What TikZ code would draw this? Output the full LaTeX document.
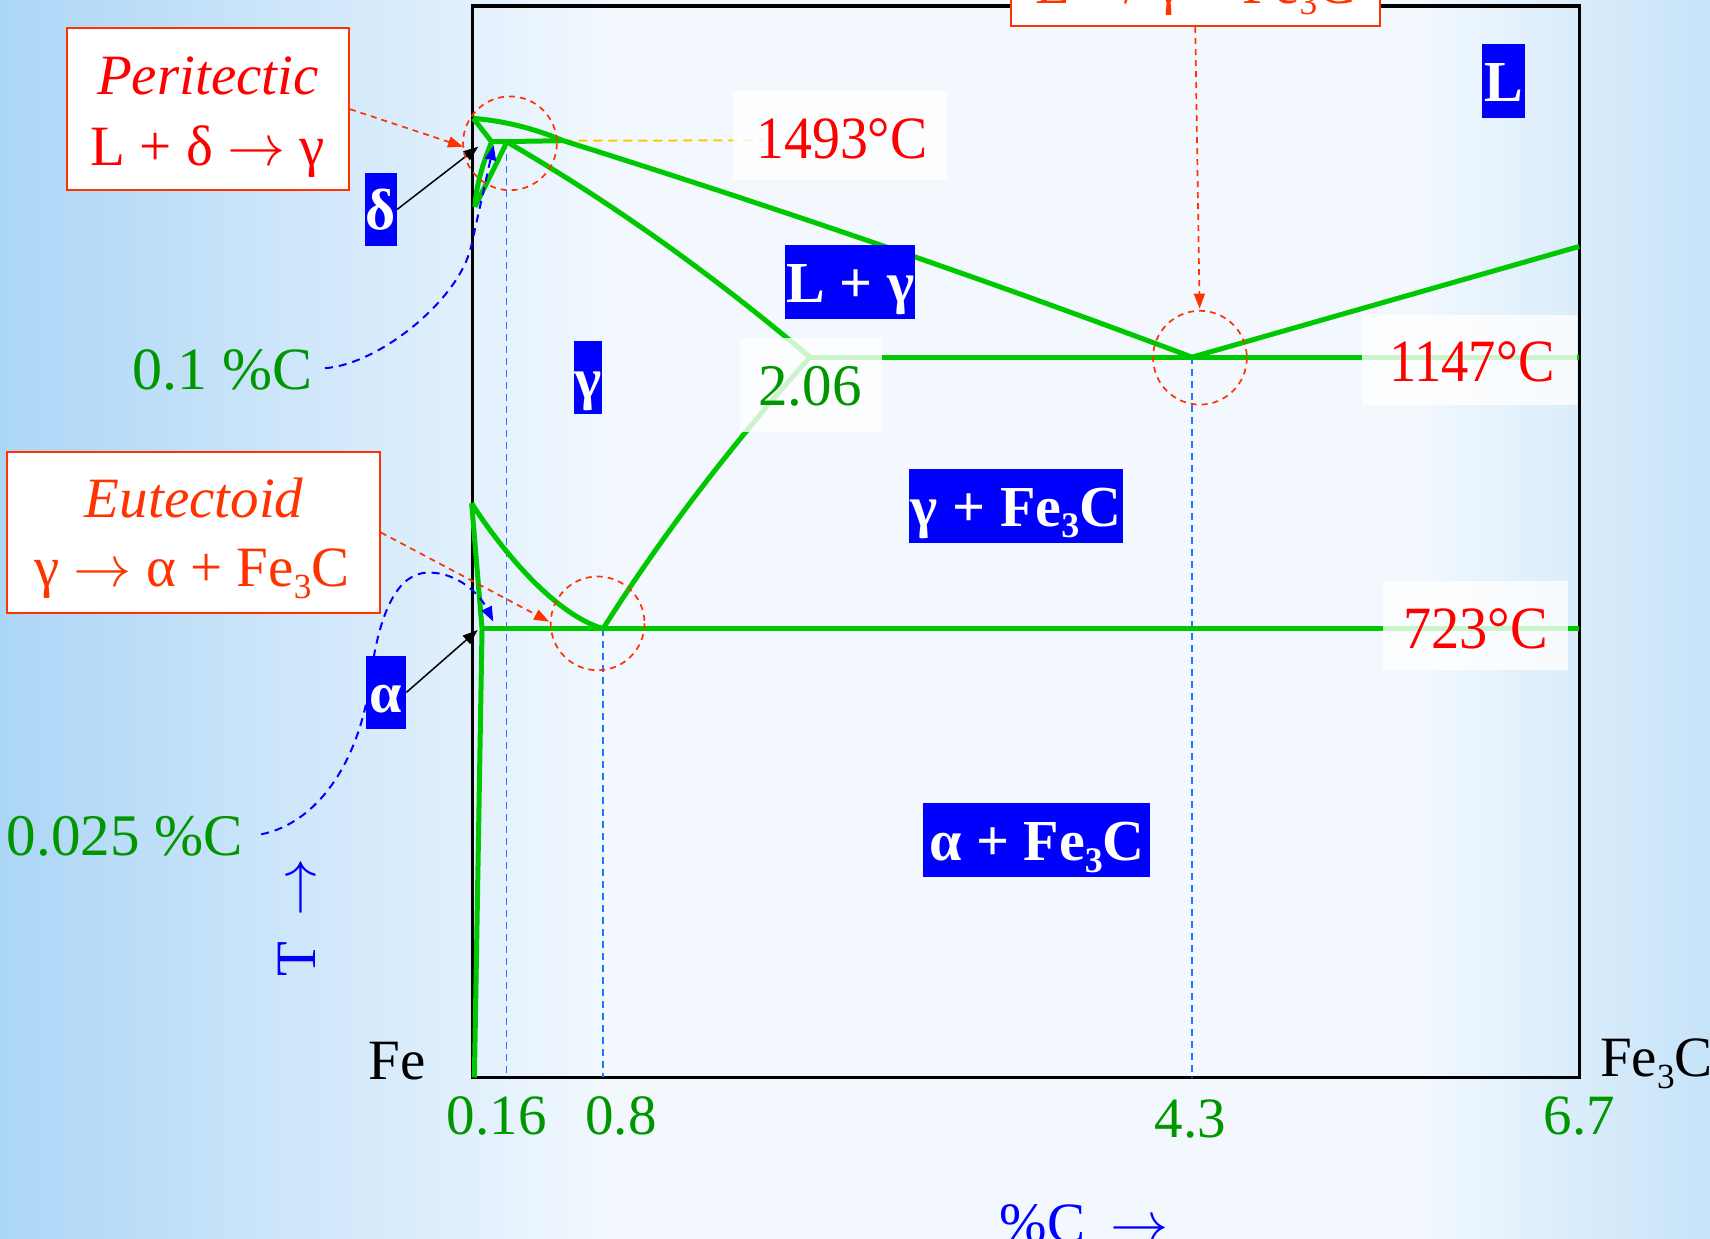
\documentclass[tikz,border=0pt]{standalone}
\usepackage{fontspec}
\setmainfont{Liberation Serif}
\usetikzlibrary{arrows.meta}
\definecolor{gline}{RGB}{0,200,0}
\definecolor{gtext}{RGB}{0,150,0}
\definecolor{pblue}{RGB}{0,0,255}
\definecolor{boxred}{RGB}{255,51,0}
\definecolor{vblue}{RGB}{30,120,255}
\definecolor{yline}{RGB}{255,200,0}
\definecolor{bgl}{RGB}{172,214,246}
\definecolor{bgm}{RGB}{242,248,254}
\definecolor{bgr}{RGB}{198,227,248}
\newcommand\lowthree{\raisebox{-0.2em}{\scalebox{0.62}{3}}}
\newcommand\setfs[1]{\fontsize{#1}{#1}\selectfont}
\newcommand\rarr{\resizebox{1.02em}{!}{$\rightarrow$}}
\begin{document}
\begin{tikzpicture}[x=1.0906pt,y=-1.0906pt,
  gl/.style={draw=gline,line width=5pt,line join=round},
  frm/.style={draw=black,line width=3.2pt},
  vdash/.style={draw=vblue,line width=1.5pt,dash pattern=on 7pt off 5pt},
  bdash/.style={draw=pblue,line width=2pt,dash pattern=on 8pt off 6pt},
  rdash/.style={draw=boxred,line width=1.7pt,dash pattern=on 6pt off 5pt},
  ydash/.style={draw=yline,line width=2pt,dash pattern=on 9pt off 6pt},
  phase/.style={fill=pblue,text=white,font=\bfseries\setfs{58},inner sep=0pt,text height=44pt,text depth=3pt},
  wbox/.style={fill=white,fill opacity=0.8,inner sep=0pt},
  rbox/.style={draw=boxred,line width=2pt,fill=white,inner sep=0pt},
  lbl/.style={inner sep=0pt,anchor=base},
  tipt/.style={-{Triangle[length=15pt,width=11pt]}},
]
\useasboundingbox (0,0) rectangle (1568,1136);
% background
\shade[left color=bgl,right color=bgm] (0,0) rectangle (560,1136);
\fill[bgm] (559,0) rectangle (1301,1136);
\shade[left color=bgm,right color=bgr] (1300,0) rectangle (1568,1136);

% key points
\coordinate (A) at (434,108.5);
\coordinate (H) at (450.8,130);
\coordinate (J) at (464.6,130);
\coordinate (Pp) at (516.5,129);
\coordinate (N) at (435.5,189.6);
\coordinate (E) at (742.7,327.5);
\coordinate (C) at (1093,327.5);
\coordinate (Lr) at (1448,226);
\coordinate (Er) at (1448,327.5);
\coordinate (G) at (432.5,461.5);
\coordinate (Pa) at (442,576.5);
\coordinate (S) at (553,576.5);
\coordinate (Sr) at (1448,576.5);
\coordinate (Qb) at (435,988);
\coordinate (Jb) at (464.6,988);
\coordinate (Sb) at (553,988);
\coordinate (Cb) at (1093,988);
\coordinate (Yend) at (700,128.7);

% frame
\draw[frm] (433,5.5) rectangle (1448,988);

% blue dashed verticals
\draw[vdash] (J) -- (Jb);
\draw[vdash] (S) -- (Sb);
\draw[vdash] (C) -- (Cb);

% yellow dashed
\draw[ydash] (Pp) -- (Yend);

% green phase lines
\draw[gl] (A) .. controls (461.5,110.8) and (489,117.4) .. (Pp)
          .. controls (708.7,189.3) and (900.8,255.2) .. (C) -- (Lr);
\draw[gl] (A) -- (H) -- (Pp);
\draw[gl] (H) .. controls (445,145) and (437,165) .. (N);
\draw[gl] (J) .. controls (458,145) and (445,170) .. (N);
\draw[gl] (J) .. controls (557.3,183.7) and (650,248.9) .. (E);
\draw[gl] (E) -- (Er);
\draw[gl] (E) .. controls (668.8,410) and (605.6,493) .. (S);
\draw[gl] (G) .. controls (455,497) and (505,562) .. (S);
\draw[gl] (G) -- (Pa) -- (Qb);
\draw[gl] (Pa) -- (Sr);

% translucent white label boxes
\node[wbox,minimum width=213.8pt,minimum height=89.4pt] (b1493) at (770,124) {};
\node[wbox,minimum width=214.8pt,minimum height=89.4pt] (b1147) at (1347.5,330) {};
\node[wbox,minimum width=185.4pt,minimum height=88.3pt] (b723) at (1353,573.5) {};
\node[wbox,minimum width=141.8pt,minimum height=93.8pt] (b206) at (744,353) {};

\node[lbl,text=red,font=\setfs{60}] (t1493) at (772,145.2) {\scalebox{0.93}[1]{1493°C}};
\node[lbl,text=red,font=\setfs{60}] (t1147) at (1349.5,349.4) {\scalebox{0.91}[1]{1147°C}};
\node[lbl,text=red,font=\setfs{60}] (t723) at (1353,595) {\scalebox{0.94}[1]{723°C}};
\node[lbl,text=gtext,font=\setfs{59}] (t206) at (742.7,371.4) {2.06};

% phase labels
\node[phase,minimum width=42.5pt,minimum height=74.4pt] (phL) at (1378.5,74.4) {L};
\node[phase,minimum width=130pt,minimum height=74pt] (phLg) at (779.7,258.6) {L + γ};
\node[phase,minimum width=27.7pt,minimum height=73.7pt] (phg) at (539.3,346.2) {γ};
\node[phase,minimum width=214pt,minimum height=73.7pt] (phgF) at (931.7,463.8) {γ + Fe\lowthree C};
\node[phase,minimum width=227pt,minimum height=74pt] (phaF) at (950.8,770.5) {α + Fe\lowthree C};

% left blue dashed curves (behind delta / alpha labels)
\coordinate (c01s) at (298,337.6);
\coordinate (c01e) at (452.7,133);
\draw[bdash,tipt,pblue] (c01s) .. controls (348,334) and (421,274.7) .. (432,226) -- (c01e);
\coordinate (c025s) at (239.5,765);
\coordinate (c025e) at (452.3,570);
\draw[bdash,tipt,pblue] (c025s) .. controls (290,755) and (330,700) .. (340,620)
   .. controls (348,560) and (365,525) .. (393,525)
   .. controls (420,525) and (440,545) .. (c025e);

\node[phase,minimum width=32.3pt,minimum height=73.4pt] (phd) at (349.2,192) {δ};
\node[phase,minimum width=40.2pt,minimum height=73.8pt] (pha) at (354,634.9) {α};

% black arrows
\coordinate (dtip) at (438.6,134.5);
\coordinate (atip) at (438,577.7);
\draw[black,line width=1.5pt,tipt] (phd.east) -- (dtip);
\draw[black,line width=1.5pt,tipt] (pha.east) -- (atip);

% reaction boxes
\node[rbox,minimum width=282pt,minimum height=161.6pt] (peribox) at (190.7,100.1) {};
\node[lbl,text=red,font=\itshape\setfs{57}] (tperi) at (190.6,86.5) {Peritectic};
\node[lbl,text=red,font=\setfs{57}] (tperi2) at (190.4,151.3) {L + δ \rarr{} γ};

\node[rbox,minimum width=373.3pt,minimum height=161.6pt] (eutbox) at (177.25,488.3) {};
\node[lbl,text=boxred,font=\itshape\setfs{57}] (teut) at (178,474.7) {Eutectoid};
\node[lbl,text=boxred,font=\setfs{57}] (teut2) at (176,538) {γ \rarr{} α + Fe\lowthree C};

\node[rbox,minimum width=368.6pt,minimum height=161.6pt] (ecbox) at (1096,-50.1) {};
\node[lbl,text=boxred,font=\setfs{57}] (tec) at (1096,3) {L \rarr{} γ + Fe\lowthree C};

% red dashed circles
\draw[rdash] (467.6,131.4) circle[radius=43];
\draw[rdash] (548,571.6) circle[radius=43];
\draw[rdash] (1100.3,328) circle[radius=43];

% red dashed arrows
\coordinate (ptip) at (424.6,134.5);
\coordinate (etip) at (503.5,570);
\coordinate (ctip) at (1100,283);
\draw[rdash,tipt,boxred] (peribox.east) -- (ptip);
\draw[rdash,tipt,boxred] (eutbox.east) -- (etip);
\draw[rdash,tipt,boxred] (ecbox.south) -- (ctip);

% axis labels
\node[lbl,anchor=base west,text=gtext,font=\setfs{60}] (l01) at (121,357.6) {0.1 \%C};
\node[lbl,anchor=base west,text=gtext,font=\setfs{59}] (l025) at (6.1,784) {0.025 \%C};
\node[lbl,text=gtext,font=\setfs{57}] (x016) at (455.5,1040.7) {0.16};
\node[lbl,text=gtext,font=\setfs{57}] (x08) at (569.5,1040.7) {0.8};
\node[lbl,text=gtext,font=\setfs{57}] (x43) at (1091.5,1042.8) {4.3};
\node[lbl,text=gtext,font=\setfs{57}] (x67) at (1448,1040.7) {6.7};
\node[lbl,anchor=base west,text=black,font=\setfs{57}] (lFe) at (337.6,990.3) {Fe};
\node[lbl,anchor=base west,text=black,font=\setfs{57}] (lFe3C) at (1467,987.2) {Fe\lowthree C};
\node[lbl,anchor=base west,text=pblue,font=\setfs{57}] (lpc) at (916.5,1139.7) {\%C\hspace{0.45em}\rarr};
\node[lbl,anchor=base west,rotate=90,text=pblue,font=\setfs{57}] (lT) at (289,896) {T\hspace{0.45em}\rarr};
\end{tikzpicture}
\end{document}
